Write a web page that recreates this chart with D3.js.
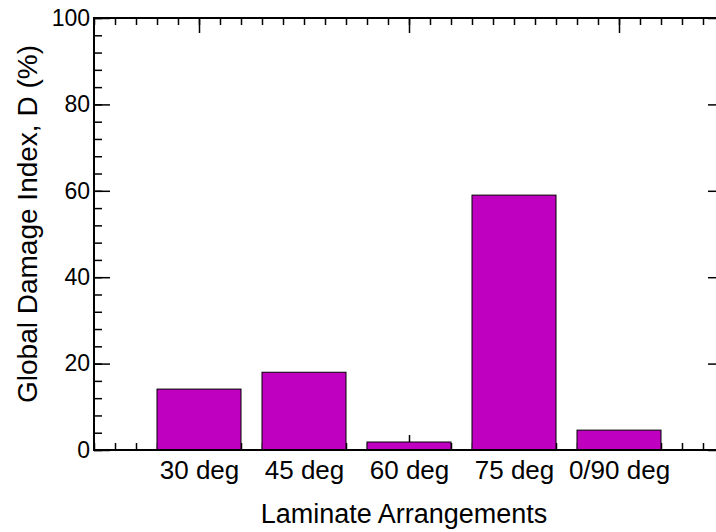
<!DOCTYPE html>
<html>
<head>
<meta charset="utf-8">
<script src="https://cdn.jsdelivr.net/npm/d3@7"></script>
<style>
  body { margin: 0; background: #fff; }
  svg { display: block; font-family: "Liberation Sans", Arial, sans-serif; }
</style>
</head>
<body>
<div id="chart"></div>
<script>
const categories = ["30 deg", "45 deg", "60 deg", "75 deg", "0/90 deg"];
const positions = [1, 2, 3, 4, 5];
const damage = [14.1, 18.0, 1.85, 59.0, 4.6];
const yTicks = [0, 20, 40, 60, 80, 100];

let margin = { top: 18, right: -8, bottom: 82, left: 94 },
  width = 716 - margin.left - margin.right,
  height = 532 - margin.top - margin.bottom;

let svg = d3.select("#chart")
  .append("svg")
  .attr("width", 716)
  .attr("height", 532)
  .append("g")
  .attr("transform", "translate(" + margin.left + "," + margin.top + ")");

let x = d3.scaleLinear().domain([0, 6]).range([0, width]);
let y = d3.scaleLinear().domain([0, 100]).range([height, 0]);

const minorX = d3.range(0, 30.01, 1).map(d => d / 5);
const minorY = d3.range(0, 101, 4);

function clean(g) {
  g.select(".domain").remove();
  g.selectAll(".tick line").attr("stroke", "#000").attr("stroke-width", 1.5);
}

// minor ticks
svg.append("g").call(d3.axisLeft(y).tickValues(minorY).tickSize(-8).tickFormat("")).call(clean);
svg.append("g").attr("transform", "translate(" + width + ",0)")
  .call(d3.axisRight(y).tickValues(minorY).tickSize(-8).tickFormat("")).call(clean);
svg.append("g").call(d3.axisTop(x).tickValues(minorX).tickSize(-7).tickFormat("")).call(clean);
svg.append("g").attr("transform", "translate(0," + height + ")")
  .call(d3.axisBottom(x).tickValues(minorX).tickSize(-7).tickFormat("")).call(clean);

// major ticks
svg.append("g").attr("transform", "translate(" + width + ",0)")
  .call(d3.axisRight(y).tickValues(yTicks).tickSize(-16).tickFormat("")).call(clean);
svg.append("g").call(d3.axisTop(x).tickValues([1, 3, 5]).tickSize(-15).tickFormat("")).call(clean);
svg.append("g").attr("transform", "translate(0," + height + ")")
  .call(d3.axisBottom(x).tickValues([1, 3, 5]).tickSize(-15).tickFormat("")).call(clean);

let yAxis = svg.append("g")
  .call(d3.axisLeft(y).tickValues(yTicks).tickSize(-16).tickPadding(4))
  .call(clean);
yAxis.selectAll("text").attr("font-size", 23).attr("fill", "#000").attr("font-family", null);

// bars
svg.selectAll("rect.bar")
  .data(damage)
  .enter()
  .append("rect")
  .attr("class", "bar")
  .attr("x", (d, i) => x(positions[i] - 0.4))
  .attr("width", (d, i) => x(positions[i] + 0.4) - x(positions[i] - 0.4))
  .attr("y", d => y(d))
  .attr("height", d => y(0) - y(d))
  .attr("fill", "#C000C0")
  .attr("stroke", "#000")
  .attr("stroke-width", 1);

// x labels
let xAxis = svg.append("g")
  .attr("transform", "translate(0," + height + ")")
  .call(d3.axisBottom(x).tickValues(positions).tickSize(0).tickPadding(11)
    .tickFormat((d, i) => categories[i]))
  .call(clean);
xAxis.selectAll("text").attr("font-size", 26).attr("fill", "#000").attr("font-family", null);

// frame lines
svg.append("line").attr("x1", 0).attr("x2", 0).attr("y1", 0).attr("y2", height)
  .attr("stroke", "#000").attr("stroke-width", 2);
svg.append("line").attr("x1", -1).attr("x2", width).attr("y1", 0).attr("y2", 0)
  .attr("stroke", "#000").attr("stroke-width", 2);
svg.append("line").attr("x1", -1).attr("x2", width).attr("y1", height).attr("y2", height)
  .attr("stroke", "#000").attr("stroke-width", 2);

// titles
svg.append("text")
  .attr("text-anchor", "middle")
  .attr("x", width / 2 - 5)
  .attr("y", height + 73)
  .attr("font-size", 27)
  .text("Laminate Arrangements");

svg.append("text")
  .attr("text-anchor", "middle")
  .attr("transform", "rotate(-90)")
  .attr("x", -206)
  .attr("y", -57)
  .attr("font-size", 28)
  .text("Global Damage Index, D (%)");
</script>
</body>
</html>
